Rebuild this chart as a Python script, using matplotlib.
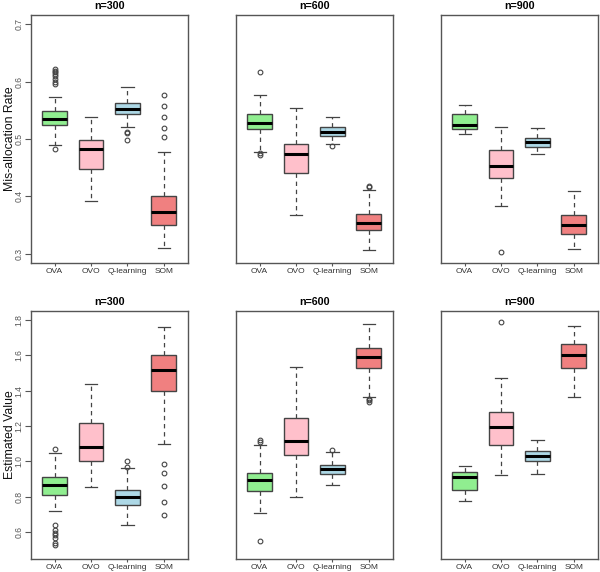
import numpy as np
import matplotlib
matplotlib.use('Agg')
import matplotlib.pyplot as plt

plt.rcParams['font.family'] = ['Liberation Sans', 'DejaVu Sans']

# METHODS AND COLOURS
methods = ['OVA', 'OVO', 'Q-learning', 'SOM']
colors = ['#90EE90', '#FFC0CB', '#ADD8E6', '#F08080']
sizes = ['n=300', 'n=600', 'n=900']

# BOX STATS: [lower whisker, Q1, median, Q3, upper whisker]
mis300 = [[0.490, 0.524, 0.535, 0.548, 0.573],
          [0.392, 0.448, 0.482, 0.499, 0.538],
          [0.521, 0.543, 0.552, 0.563, 0.591],
          [0.310, 0.350, 0.373, 0.401, 0.478]]
mis300_out = [[0.482, 0.595, 0.600, 0.604, 0.609, 0.613, 0.616, 0.619, 0.622],
              [],
              [0.499, 0.510, 0.512],
              [0.503, 0.519, 0.538, 0.558, 0.576]]

mis600 = [[0.478, 0.517, 0.528, 0.544, 0.577],
          [0.368, 0.440, 0.473, 0.491, 0.554],
          [0.492, 0.506, 0.513, 0.521, 0.538],
          [0.306, 0.341, 0.354, 0.370, 0.412]]
mis600_out = [[0.472, 0.475, 0.616],
              [],
              [0.487],
              [0.416, 0.418]]

mis900 = [[0.509, 0.517, 0.524, 0.543, 0.559],
          [0.383, 0.432, 0.453, 0.480, 0.521],
          [0.473, 0.486, 0.494, 0.501, 0.519],
          [0.309, 0.334, 0.351, 0.367, 0.409]]
mis900_out = [[], [0.303], [], []]

val300 = [[0.717, 0.811, 0.867, 0.909, 1.045],
          [0.854, 1.003, 1.078, 1.216, 1.435],
          [0.638, 0.753, 0.800, 0.837, 0.962],
          [1.095, 1.399, 1.514, 1.604, 1.762]]
val300_out = [[0.523, 0.536, 0.566, 0.581, 0.594, 0.609, 0.638, 1.071],
              [],
              [0.965, 1.003],
              [0.698, 0.769, 0.860, 0.933, 0.986]]

val600 = [[0.705, 0.832, 0.892, 0.935, 1.090],
          [0.796, 1.037, 1.116, 1.246, 1.534],
          [0.866, 0.926, 0.956, 0.979, 1.050],
          [1.363, 1.529, 1.589, 1.642, 1.779]]
val600_out = [[0.547, 1.109, 1.122],
              [],
              [1.065],
              [1.335, 1.344, 1.353]]

val900 = [[0.777, 0.839, 0.911, 0.937, 0.973],
          [0.920, 1.090, 1.193, 1.278, 1.472],
          [0.930, 1.003, 1.031, 1.058, 1.118],
          [1.365, 1.529, 1.600, 1.662, 1.768]]
val900_out = [[], [1.789], [], []]

rows = [
    ('Mis-allocation Rate', (0.3, 0.7), [0.3, 0.4, 0.5, 0.6, 0.7],
     [(mis300, mis300_out), (mis600, mis600_out), (mis900, mis900_out)]),
    ('Estimated Value', (0.5, 1.8), [0.6, 0.8, 1.0, 1.2, 1.4, 1.6, 1.8],
     [(val300, val300_out), (val600, val600_out), (val900, val900_out)]),
]

W, H = 600, 572
fig = plt.figure(figsize=(W / 100, H / 100), dpi=100)
fig.patch.set_facecolor('white')

lefts = [30.7, 235.7, 440.7]
tops = [15, 310.7]
pw, ph = 157, 248
frame = '#555555'


def draw_panel(ax, stats, outs, ylim, yticks, title, show_y):
    bxp_stats = []
    for name, s, o in zip(methods, stats, outs):
        bxp_stats.append(dict(whislo=s[0], q1=s[1], med=s[2], q3=s[3],
                              whishi=s[4], fliers=o, label=name))
    bp = ax.bxp(bxp_stats, positions=[1, 2, 3, 4], widths=0.68,
                patch_artist=True, showfliers=True,
                boxprops=dict(edgecolor='#444444', linewidth=1.0),
                medianprops=dict(color='black', linewidth=2.2,
                                 solid_capstyle='butt'),
                whiskerprops=dict(color='#444444', linewidth=0.9,
                                  linestyle=(0, (3.5, 3))),
                capprops=dict(color='#444444', linewidth=0.9),
                flierprops=dict(marker='o', markersize=3.4,
                                markerfacecolor='none',
                                markeredgecolor='#444444',
                                markeredgewidth=0.8, linestyle='none'),
                capwidths=0.34)
    for patch, c in zip(bp['boxes'], colors):
        patch.set_facecolor(c)

    span = ylim[1] - ylim[0]
    ax.set_ylim(ylim[0] - 0.04 * span, ylim[1] + 0.04 * span)
    ax.set_xlim(0.34, 4.66)
    ax.set_xticks([1, 2, 3, 4])
    ax.set_xticklabels(methods, fontsize=6.0, color='#333333')
    ax.tick_params(axis='x', length=2.5, width=0.8, color=frame, pad=1)
    if show_y:
        ax.set_yticks(yticks)
        ax.set_yticklabels(['%.1f' % t for t in yticks], rotation=90,
                           va='center', fontsize=6.2, color='#555555')
        ax.tick_params(axis='y', length=4, width=0.8, color=frame, pad=1)
    else:
        ax.set_yticks([])
    for sp in ax.spines.values():
        sp.set_color(frame)
        sp.set_linewidth(1.0)
    ax.set_title(title, fontsize=7.7, fontweight='bold', pad=4)


for r, (ylabel, ylim, yticks, panels) in enumerate(rows):
    for c, (stats, outs) in enumerate(panels):
        ax = fig.add_axes([lefts[c] / W, 1 - (tops[r] + ph) / H, pw / W, ph / H])
        draw_panel(ax, stats, outs, ylim, yticks, sizes[c], c == 0)
    fig.text(10 / W, 1 - (tops[r] + ph / 2) / H, ylabel, rotation=90,
             ha='center', va='center', fontsize=8.8, color='#111111')

fig.savefig('out.png', dpi=100, facecolor='white')
